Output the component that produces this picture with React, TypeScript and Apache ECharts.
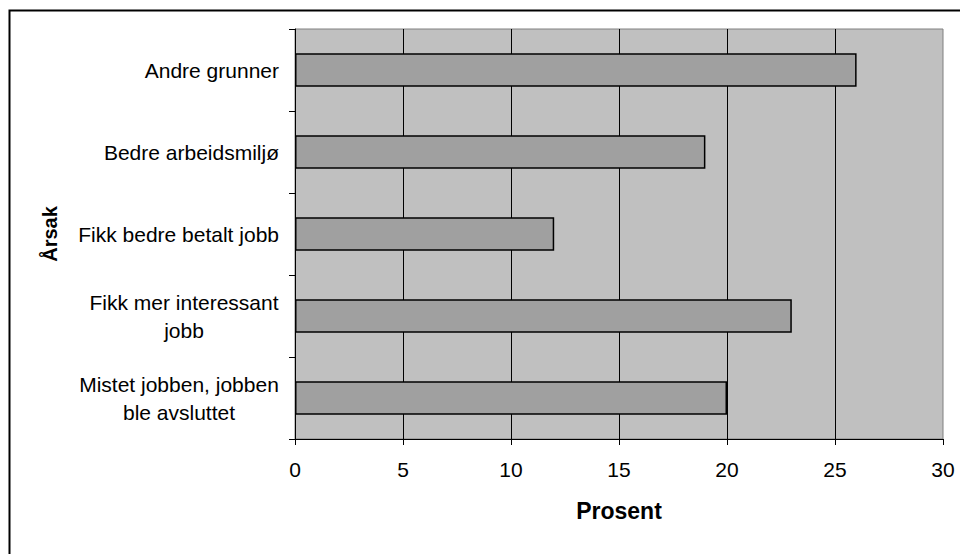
import React, { useEffect, useRef } from 'react';
import * as echarts from 'echarts';

const categories = [
  'Andre grunner',
  'Bedre arbeidsmiljø',
  'Fikk bedre betalt jobb',
  'Fikk mer interessant jobb',
  'Mistet jobben, jobben ble avsluttet',
];
const categoryLines = [
  ['Andre grunner'],
  ['Bedre arbeidsmiljø'],
  ['Fikk bedre betalt jobb'],
  ['Fikk mer interessant', 'jobb'],
  ['Mistet jobben, jobben', 'ble avsluttet'],
];
const values = [26, 19, 12, 23, 20];
const xMin = 0;
const xMax = 30;
const xStep = 5;
const xAxisTitle = 'Prosent';
const yAxisTitle = 'Årsak';

const FONT = "'Liberation Sans', Arial, Helvetica, sans-serif";

export default function App() {
  const ref = useRef<HTMLDivElement>(null);
  useEffect(() => {
    if (!ref.current) return;
    const chart = echarts.init(ref.current, null, { renderer: 'svg' });

    const canvas = document.createElement('canvas');
    const ctx = canvas.getContext('2d')!;
    ctx.font = `21px ${FONT}`;
    const rich: Record<string, any> = {};
    categoryLines.forEach((lines, i) => {
      if (lines.length > 1) {
        const w = Math.max(...lines.map((l) => ctx.measureText(l).width));
        rich['l' + i] = {
          width: Math.ceil(w),
          align: 'center',
          fontSize: 21,
          lineHeight: 28,
          fontFamily: FONT,
          color: '#000',
        };
      }
    });

    chart.setOption({
      animation: false,
      backgroundColor: '#fff',
      textStyle: { fontFamily: FONT },
      graphic: [
        {
          type: 'rect',
          shape: { x: 1.5, y: 2.5, width: 1100, height: 1100 },
          style: { fill: 'none', stroke: '#000', lineWidth: 2 },
          silent: true,
          z: 100,
        },
      ],
      grid: {
        left: 287,
        top: 21,
        width: 648,
        height: 410,
        show: true,
        backgroundColor: '#c0c0c0',
        borderColor: '#808080',
        borderWidth: 1,
      },
      xAxis: {
        type: 'value',
        min: xMin,
        max: xMax,
        interval: xStep,
        name: xAxisTitle,
        nameLocation: 'middle',
        nameGap: 60,
        nameTextStyle: { fontSize: 23, fontWeight: 'bold', color: '#000', fontFamily: FONT },
        axisLine: { show: true, lineStyle: { color: '#000', width: 1 } },
        axisTick: { show: true, length: 6, lineStyle: { color: '#000', width: 1 } },
        axisLabel: { fontSize: 21, color: '#000', margin: 20, fontFamily: FONT },
        splitLine: {
          show: true,
          showMinLine: false,
          showMaxLine: false,
          lineStyle: { color: '#000', width: 1 },
        },
      },
      yAxis: {
        type: 'category',
        data: categories,
        inverse: true,
        name: yAxisTitle,
        nameLocation: 'middle',
        nameGap: 235,
        nameTextStyle: { fontSize: 20, fontWeight: 'bold', color: '#000', fontFamily: FONT },
        axisLine: { show: true, lineStyle: { color: '#000', width: 1 } },
        axisTick: { show: true, length: 6, lineStyle: { color: '#000', width: 1 } },
        axisLabel: {
          fontSize: 21,
          color: '#000',
          margin: 16,
          lineHeight: 28,
          fontFamily: FONT,
          rich,
          formatter: (value: string, index: number) => {
            const lines = categoryLines[index] || [value];
            if (lines.length === 1) return lines[0];
            return lines.map((l) => `{l${index}|${l}}`).join('\n');
          },
        },
        splitLine: { show: false },
      },
      series: [
        {
          type: 'bar',
          data: values,
          barWidth: '41%',
          itemStyle: { color: '#a0a0a0', borderColor: '#000', borderWidth: 1.5 },
        },
      ],
    });
    return () => chart.dispose();
  }, []);
  return <div ref={ref} style={{ width: 960, height: 546 }} />;
}
